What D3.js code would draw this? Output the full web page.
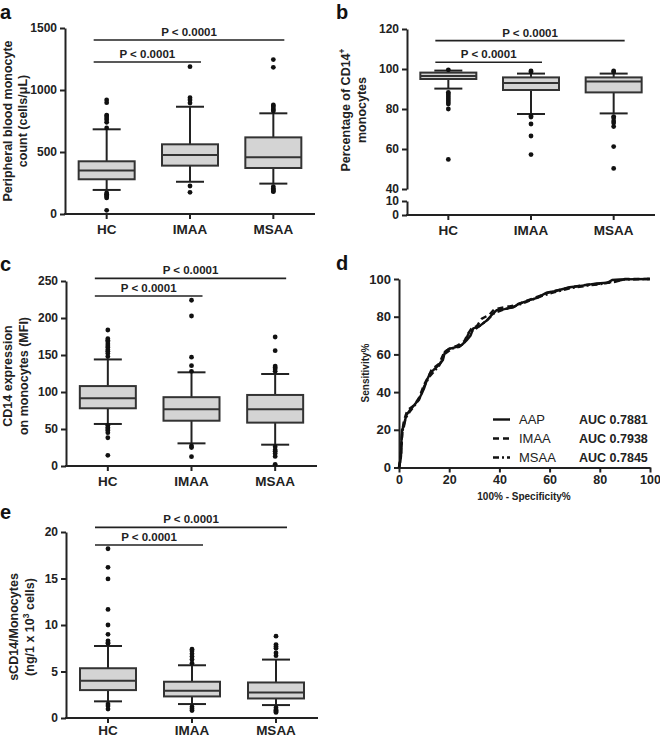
<!DOCTYPE html>
<html><head><meta charset="utf-8">
<script src="https://cdn.jsdelivr.net/npm/d3@7/dist/d3.min.js"></script>
<style>
body{margin:0;background:#fff;}
svg{display:block;font-family:"Liberation Sans",Arial,sans-serif;}
</style></head>
<body><svg id="c" width="660" height="738"></svg>
<script>
const groups = ["HC","IMAA","MSAA"];
// box stats: [lower whisker, Q1, median, Q3, upper whisker]
const aStats = [[194,280,350,425,683],[260,390,476,562,865],[245,371,457,618,812]];
const aOut = [[920,898,798,790,774,760,740,694,170,160,150,140,130,30],[1188,938,920,895,226,175],[1245,1183,880,870,855,840,830,220,205,195,185,180]];
const aTicks = [0,500,1000,1500];
const aP = [1403,1226];

const bStats = [[90.2,95,96.5,98.2,99.2],[77.5,89.5,93,95.8,97.7],[77.8,88.3,93.7,95.8,97.7]];
const bOut = [[99.6,88.3,87.5,86.5,85.5,84.5,83.5,82.5,80,54.8],[99,98.5,76.5,76,72.5,66.5,57.2],[99,98.5,76.2,75.5,74,73,71.2,61.2,50.3]];
const bTicksUpper = [40,60,80,100,120];
const bTicksLower = [0,10];
const bP = [114.2,103.4];

const cStats = [[56.8,78,91.5,108,144],[30.6,61.2,76.6,93,126.6],[28.8,58.6,76.6,96,124.3]];
const cOut = [[183.8,172,170,168,165,162,160,157,155,152,148,55,52,50,48,45,38.2,14.4],[224,202.7,147,135.6,128,27,25,12.6],[174.3,155.9,135,133,131,128,26,22,20,17,13,2.3]];
const cTicks = [0,50,100,150,200,250];
const cP = [253.6,229.7];

const eStats = [[1.79,3.0,4.0,5.35,7.74],[1.5,2.32,2.93,3.9,5.67],[1.39,2.1,2.75,3.82,6.28]];
const eOut = [[18.2,16.2,14.95,11.67,10,9.0,8.3,8.1,8.0,1.5,1.3,0.96],[7.4,7.2,6.9,6.6,6.3,5.9,1.2,1.0,0.8],[8.8,7.9,7.7,7.5,7.0,6.7,1.1,0.9,0.8,0.7,0.6]];
const eTicks = [0,5,10,15,20];
const eP = [20.5,18.6];

const pLabel = "P < 0.0001";

// ROC curves: [100% - specificity, sensitivity]
const rocAAP = [[0,0],[0.5,3],[0.8,6],[1,15],[1.2,20],[2,22],[2.4,25],[3,28],[4.4,30.5],[6,33],[7.7,35.8],[9,39],[10,42],[11,46],[12.4,50],[14,52],[16.3,55],[17.5,57],[18.3,61.4],[20,63],[23,64],[25,65],[27,67.6],[28.5,70],[29.6,73.8],[32,75],[35,78],[37,81],[38.9,83.5],[42,84],[45.5,85],[48,87],[52,88.8],[55,90],[58.8,92.7],[62,93.5],[68,95.6],[73,96.5],[78.8,97.7],[83,98],[85,99.5],[88,99.8],[100,100]];
const rocIMAA = [[0,0],[0.6,5],[1,12],[1.5,21],[2,25],[3,29],[4,31],[6,33],[8,37],[10,44],[12,49],[13,52],[16,55],[18,61],[20,63],[23,64.5],[26,67],[27.5,71],[29,74],[31,75],[33,79],[36,81],[38,84],[42,85],[46,86],[50,88],[55,90.5],[60,93],[68,95.5],[75,97],[80,97.5],[86,98.5],[90,100],[100,100]];
const rocMSAA = [[0,0],[0.8,6],[1.2,18],[2,23],[3,27],[4.5,30],[6,32.5],[8,36],[10,43],[12,48],[14,51],[16,54],[18,60],[21,63],[24,64],[26,66],[28,72],[30,73],[33,76],[35,78],[38,82],[41,83.5],[45,85],[49,87],[53,89],[57,91],[62,93],[68,95],[75,96.5],[80,97.2],[85,98.5],[90,99.8],[100,100]];
const rocNames = ["AAP","IMAA","MSAA"];
const rocAUC = ["AUC 0.7881","AUC 0.7938","AUC 0.7845"];
const rocTicks = [0,20,40,60,80,100];

const svg = d3.select("#c");
const FONT = "'Liberation Sans',Arial,sans-serif";
const fmt = d3.format("d");

function styleAxis(g, fs){
  g.selectAll("path.domain").attr("stroke","#222").attr("stroke-width",2);
  g.selectAll(".tick line").attr("stroke","#222").attr("stroke-width",2);
  g.selectAll(".tick text").attr("font-family",FONT).attr("font-weight","bold").attr("font-size",fs).attr("fill","#222");
}

function letter(x,y,t){
  svg.append("text").attr("x",x).attr("y",y).text(t)
    .attr("font-family",FONT).attr("font-weight","bold").attr("font-size",20).attr("fill","#111");
}

function ylabel(cx, cy, lines, gap){
  const t = svg.append("text").attr("transform",`translate(${cx},${cy}) rotate(-90)`)
    .attr("text-anchor","middle").attr("font-family",FONT).attr("font-weight","bold").attr("font-size",12.5).attr("fill","#222");
  lines.forEach((l,i)=>{
    const ts = t.append("tspan").attr("x",0).attr("dy", i===0?0:(gap||15.5));
    l.forEach(seg=>{
      const s = ts.append("tspan").text(seg.t);
      if(seg.sup){ s.attr("baseline-shift","super").attr("font-size",8.5); }
    });
  });
}

function boxPanel(o){
  const x = d3.scaleBand().domain(groups).range([o.x0,o.x1]).paddingInner(0).paddingOuter(0);
  const y = o.y;
  const bw = 56;
  const gx = svg.append("g").attr("transform",`translate(0,${o.yBase})`)
    .call(d3.axisBottom(x).tickSize(5).tickSizeOuter(0).tickPadding(o.xPad||5));
  styleAxis(gx, 13.5);
  gx.selectAll("path.domain").attr("d",`M${o.x0-1},0H${o.x1}`);
  o.yAxis();
  groups.forEach((g,i)=>{
    const cx = x(g)+x.bandwidth()/2;
    const s = o.stats[i];
    const G = svg.append("g");
    G.append("line").attr("x1",cx).attr("x2",cx).attr("y1",y(s[0])).attr("y2",y(s[1])).attr("stroke","#222").attr("stroke-width",2);
    G.append("line").attr("x1",cx).attr("x2",cx).attr("y1",y(s[3])).attr("y2",y(s[4])).attr("stroke","#222").attr("stroke-width",2);
    [s[0],s[4]].forEach(v=>G.append("line").attr("x1",cx-14).attr("x2",cx+14).attr("y1",y(v)).attr("y2",y(v)).attr("stroke","#222").attr("stroke-width",2));
    G.append("rect").attr("x",cx-bw/2).attr("width",bw).attr("y",y(s[3])).attr("height",y(s[1])-y(s[3]))
      .attr("fill","#d4d4d4").attr("stroke","#333").attr("stroke-width",2);
    G.append("line").attr("x1",cx-bw/2).attr("x2",cx+bw/2).attr("y1",y(s[2])).attr("y2",y(s[2])).attr("stroke","#333").attr("stroke-width",2);
    o.out[i].forEach(v=>G.append("circle").attr("cx",cx).attr("cy",y(v)).attr("r",2.4).attr("fill","#111"));
  });
  const c0 = x("HC")+x.bandwidth()/2;
  [["MSAA",o.p[0]],["IMAA",o.p[1]]].forEach(([g,v])=>{
    const c1 = x(g)+x.bandwidth()/2;
    const x1 = c0-13, x2 = c1+11;
    svg.append("line").attr("x1",x1).attr("x2",x2).attr("y1",y(v)).attr("y2",y(v)).attr("stroke","#222").attr("stroke-width",1.6);
    svg.append("text").attr("x",(x1+x2)/2).attr("y",y(v)-4).attr("text-anchor","middle").text(pLabel)
      .attr("font-family",FONT).attr("font-weight","bold").attr("font-size",11.5).attr("fill","#222");
  });
}

// ---- Panel a ----
{
  const y = d3.scaleLinear().domain([0,1500]).range([214,28]);
  boxPanel({x0:65,x1:315,yBase:214,y,stats:aStats,out:aOut,p:aP,
    yAxis:()=>{ const g=svg.append("g").attr("transform","translate(65,0)").call(d3.axisLeft(y).tickValues(aTicks).tickFormat(fmt).tickSize(5).tickSizeOuter(0).tickPadding(3)); styleAxis(g,12); }});
  letter(0,19,"a");
  ylabel(12,121,[[{t:"Peripheral blood monocyte"}],[{t:"count (cells/μL)"}]],14.5);
}
// ---- Panel b ----
{
  const yU = d3.scaleLinear().domain([40,120]).range([189,29]);
  const yL = d3.scaleLinear().domain([0,10]).range([215,201]);
  const y = v => v>=40 ? yU(v) : yL(v);
  boxPanel({x0:407,x1:655,yBase:215,y,stats:bStats,out:bOut,p:bP,
    yAxis:()=>{
      const g1=svg.append("g").attr("transform","translate(407,0)").call(d3.axisLeft(yU).tickValues(bTicksUpper).tickFormat(fmt).tickSize(5).tickSizeOuter(0).tickPadding(3)); styleAxis(g1,12);
      const g2=svg.append("g").attr("transform","translate(407,0)").call(d3.axisLeft(yL).tickValues(bTicksLower).tickFormat(fmt).tickSize(5).tickSizeOuter(0).tickPadding(3)); styleAxis(g2,12);
      g2.selectAll(".tick text").attr("dy","0.3em");
      g1.selectAll(".tick").filter(d=>d===40).select("text").attr("dy","0.25em");
    }});
  letter(336,19,"b");
  ylabel(350,110,[[{t:"Percentage of CD14"},{t:"+",sup:true}],[{t:"monocytes"}]]);
}
// ---- Panel c ----
{
  const y = d3.scaleLinear().domain([0,250]).range([466,281]);
  boxPanel({x0:66,x1:317,yBase:466,y,stats:cStats,out:cOut,p:cP,
    yAxis:()=>{ const g=svg.append("g").attr("transform","translate(66,0)").call(d3.axisLeft(y).tickValues(cTicks).tickFormat(fmt).tickSize(5).tickSizeOuter(0).tickPadding(3)); styleAxis(g,12); }});
  letter(0,271,"c");
  ylabel(12,376,[[{t:"CD14 expression"}],[{t:"on monocytes (MFI)"}]]);
}
// ---- Panel e ----
{
  const y = d3.scaleLinear().domain([0,20]).range([718,532]);
  boxPanel({x0:66,x1:318,yBase:718,xPad:2.5,y,stats:eStats,out:eOut,p:eP,
    yAxis:()=>{ const g=svg.append("g").attr("transform","translate(66,0)").call(d3.axisLeft(y).tickValues(eTicks).tickFormat(fmt).tickSize(5).tickSizeOuter(0).tickPadding(3)); styleAxis(g,12); }});
  letter(0,519,"e");
  ylabel(18,627,[[{t:"sCD14/Monocytes"}],[{t:"(ng/1 x 10"},{t:"3",sup:true},{t:" cells)"}]]);
}
// ---- Panel d ----
{
  const x = d3.scaleLinear().domain([0,100]).range([399,650]);
  const y = d3.scaleLinear().domain([0,100]).range([467.5,279]);
  const gx = svg.append("g").attr("transform","translate(0,467.5)").call(d3.axisBottom(x).tickValues(rocTicks).tickFormat(fmt).tickSize(5).tickSizeOuter(0).tickPadding(3));
  styleAxis(gx,12.5);
  const gy = svg.append("g").attr("transform","translate(399,0)").call(d3.axisLeft(y).tickValues(rocTicks).tickFormat(fmt).tickSize(5).tickSizeOuter(0).tickPadding(3));
  styleAxis(gy,13);
  const line = d3.line().x(d=>x(d[0])).y(d=>y(d[1]));
  const dashes = [null,"6,4","6,3,2,3"];
  [rocAAP,rocIMAA,rocMSAA].forEach((r,i)=>{
    svg.append("path").attr("d",line(r)).attr("fill","none").attr("stroke","#111").attr("stroke-width",2.4)
      .attr("stroke-dasharray",dashes[i]);
  });
  letter(336,270,"d");
  svg.append("text").attr("transform","translate(369,373) rotate(-90)").attr("text-anchor","middle").text("Sensitivity%")
    .attr("font-family",FONT).attr("font-weight","bold").attr("font-size",10).attr("fill","#222");
  svg.append("text").attr("x",524).attr("y",500).attr("text-anchor","middle").text("100% - Specificity%")
    .attr("font-family",FONT).attr("font-weight","bold").attr("font-size",10).attr("fill","#222");
  const ly = [419.5,438.5,457.5];
  rocNames.forEach((n,i)=>{
    svg.append("line").attr("x1",493).attr("x2",510).attr("y1",ly[i]).attr("y2",ly[i]).attr("stroke","#111").attr("stroke-width",2.4).attr("stroke-dasharray",dashes[i]);
    svg.append("text").attr("x",519).attr("y",ly[i]+4.5).text(n).attr("font-family",FONT).attr("font-size",13).attr("fill","#222");
    svg.append("text").attr("x",579).attr("y",ly[i]+4.5).text(rocAUC[i]).attr("font-family",FONT).attr("font-weight","bold").attr("font-size",12.5).attr("fill","#222");
  });
}
</script></body></html>
